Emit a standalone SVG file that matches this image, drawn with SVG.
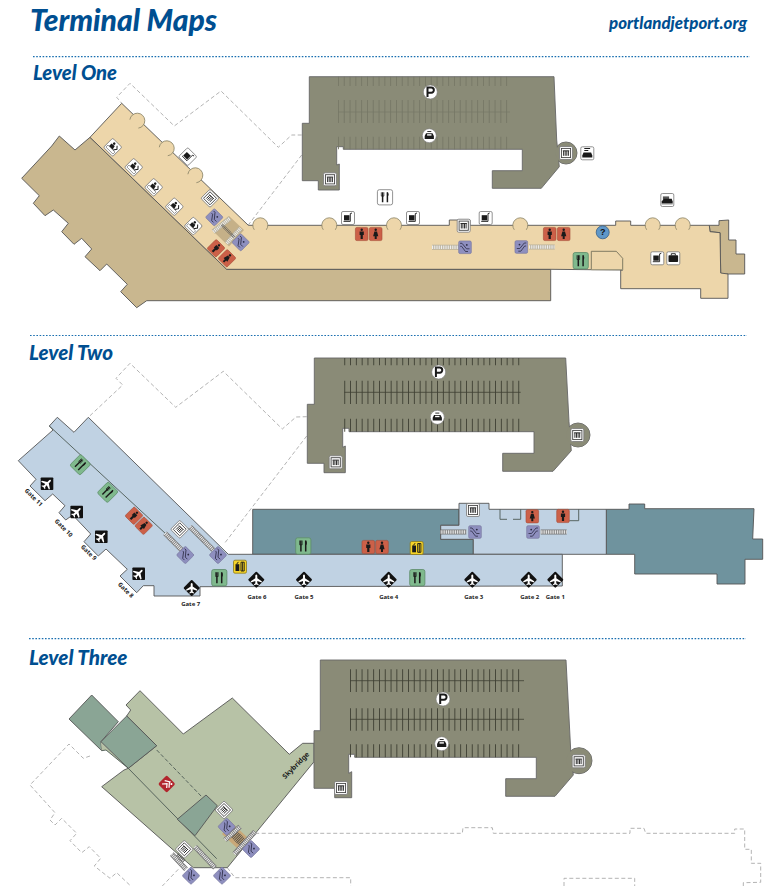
<svg xmlns="http://www.w3.org/2000/svg" width="774" height="887" viewBox="0 0 774 887">
<style>
.h{font-family:Lato,"Open Sans",sans-serif;font-weight:900;font-style:italic;fill:#004f91}
.g{font-family:"Noto Sans","Liberation Sans",sans-serif;font-weight:700;font-size:6px;fill:#222;text-anchor:middle}
.rule{fill:none;stroke:#1a6fb0;stroke-width:1.2;stroke-dasharray:1.6 1.6}
.dash{fill:none;stroke:#aaa;stroke-width:.9;stroke-dasharray:4 2.5}
.o{stroke:#555;stroke-width:.9;stroke-linejoin:miter}
.l1{fill:#edd6aa}.t1{fill:#c9b78f}.gar{fill:#8a8b77;stroke:#666;stroke-width:.9}
.bl{fill:#c0d2e3}.te{fill:#6f939e}.gr{fill:#b7c2a6}.bk{fill:#8aa595}
.in{fill:none;stroke:#4d5a55;stroke-width:.9}
.stall{fill:none;stroke-dasharray:.9 4.9}
.band{fill:none;stroke:#777;stroke-width:5}
.bandp{fill:none;stroke:#b8b09a;stroke-width:5}
.band2{fill:none;stroke:#eee;stroke-width:3.4;stroke-dasharray:1 .8}
.bump{fill:#edd6aa;stroke:#8a8468;stroke-width:.8}
.wb{fill:#fff;stroke:#777;stroke-width:.8}
.blk{fill:#1a1a1a}
.ln{fill:none;stroke:#1a1a1a}
</style>
<defs>
<path id="bp" class="bump" d="M-6 4.500A7.500 7.500 0 1 1 6 4.500"/>
<g id="elev"><rect x="-6.500" y="-6.500" width="13" height="13" rx="1.500" class="wb"/><rect x="-4.600" y="-4.600" width="9.200" height="9.200" fill="#fff" stroke="#444" stroke-width=".9"/><path d="M-3.200-2.200H3.200M-2.400-2V2.800M-.8-2V2.800M.8-2V2.800M2.400-2V2.800" class="ln" stroke-width=".9"/></g>
<g id="cart"><rect x="-6.500" y="-6.500" width="13" height="13" rx="1.500" class="wb"/><rect x="-4" y="-2.800" width="5.500" height="5.200" class="blk"/><path d="M4-5L2.300-4.400V3.400H-4.500" class="ln" stroke-width=".9"/></g>
<g id="bag"><rect x="-6.500" y="-6.500" width="13" height="13" rx="1.500" class="wb"/><rect x="-4.800" y="-3" width="9.600" height="6.800" rx=".8" class="blk"/><path d="M-2-3V-4.600H2V-3" class="ln" stroke-width=".9"/></g>
<g id="person"><rect x="-6.500" y="-6.500" width="13" height="13" rx="1.500" class="wb"/><rect x="-5" y="1.800" width="10" height="2.800" fill="#fff" stroke="#333" stroke-width=".5"/><circle cx="-1.500" cy="-3.600" r="1.300" class="blk"/><path d="M-3.500-1.800L.5-2.400L1.600 1.600H-3.500Z" class="blk"/><path d="M2-4.200L4.400-1.600L2.200 1.600" class="ln" stroke-width="1"/></g>
<g id="rent"><rect x="-6.500" y="-6.500" width="13" height="13" rx="1.500" class="wb"/><path d="M-3-4.800H2.800M-3-2.800H1" class="ln" stroke-width="1.200"/><path d="M-3.800-.8H3.800L5 2.200V4.200H-5V2.200Z" class="blk"/></g>
<g id="cars"><rect x="-6.500" y="-6.500" width="13" height="13" rx="1.500" class="wb"/><path d="M-4.400-3.600H1.800V-.6H-4.400Z" fill="#555"/><path d="M-1-1.200H4.400L5.400 1.400V3.600H-5.600V1.400L-3.600-1.200Z" class="blk"/><rect x="-5.600" y="3.600" width="11" height=".8" fill="#777"/></g>
<g id="wm"><rect x="-6.300" y="-6.600" width="12.600" height="13.200" rx="1.500" fill="#cc6048" stroke="#a64c38" stroke-width=".6"/><circle cy="-4.200" r="1.200" class="blk"/><path d="M-2.100-2.600H2.100V1H1.100V5H-1.100V1H-2.100Z" class="blk"/></g>
<g id="wf"><rect x="-6.300" y="-6.600" width="12.600" height="13.200" rx="1.500" fill="#cc6048" stroke="#a64c38" stroke-width=".6"/><circle cy="-4.200" r="1.200" class="blk"/><path d="M-1.300-2.600H1.300L2.600 2.200H1V5H-1V2.200H-2.600Z" class="blk"/></g>
<g id="esc"><rect x="-6.300" y="-6.300" width="12.600" height="12.600" rx="1.400" fill="#8e8fbf" stroke="#7a7aa0" stroke-width=".7"/><path d="M-5-4H-3L1.500 1.500H4.500M-4.800-1H-3.400L.5 4.200H3" fill="none" stroke="#2c2c44" stroke-width=".8"/><circle cx="1.800" cy="-2.400" r=".9" fill="#2c2c44"/></g>
<g id="eat"><rect x="-7.600" y="-8.200" width="15.200" height="16.400" rx="2" fill="#7fb98d" stroke="#5d8c69" stroke-width=".8"/><path d="M-2.400-5.500V5.500M2.400-5.500V5.500" class="ln" stroke-width="1.500"/><path d="M-3.700-5.500V-1.200H-1.100V-5.500" class="ln" stroke-width=".7"/><path d="M2.400-5.500C4-4.500 4-1.500 2.400-.6" fill="#1a1a1a"/></g>
<g id="eatw"><rect x="-7.600" y="-7.600" width="15.200" height="15.200" rx="2" class="wb"/><path d="M-2.400-5V5M2.400-5V5" class="ln" stroke-width="1.500"/><path d="M-3.700-5V-1.200H-1.100V-5" class="ln" stroke-width=".7"/><path d="M2.400-5C4-4 4-1.500 2.400-.6" fill="#1a1a1a"/></g>
<g id="yel"><rect x="-6.500" y="-6.500" width="13" height="13" rx="1.500" fill="#f5d327" stroke="#8a7a20" stroke-width=".8"/><rect x="-4.500" y="-2.500" width="3.800" height="6.800" class="blk"/><path d="M-3.400-2.500L-1.600-4.800" class="ln" stroke-width="1"/><path d="M1-4.500H4.200V4.300H1ZM2.600-4.500V4.300" class="ln" stroke-width=".9"/></g>
<g id="p"><circle r="7" fill="#fff" stroke="#777" stroke-width=".6"/><path d="M-2.800 5V-4.600H1C4.400-4.600 4.400 .8 1 .8H-2.800" fill="none" stroke="#1a1a1a" stroke-width="2"/></g>
<g id="car"><circle r="7" fill="#fff" stroke="#777" stroke-width=".6"/><path d="M-2-4.200H2" class="ln" stroke-width=".9"/><path d="M-3.200-2.400H3.200L4.600 .4V3.200H-4.600V.4Z" class="blk"/><rect x="-2.200" y="-1.500" width="4.400" height="1.400" fill="#fff"/></g>
<path id="pl" d="M0-5.200C.8-5.200 1-4.400 1-3.700V-1.500L5.600 1.500V2.800L1 1.300V3.600L2.400 4.800V5.600L0 4.900L-2.400 5.600V4.800L-1 3.600V1.300L-5.600 2.800V1.500L-1-1.500V-3.700C-1-4.400-.8-5.200 0-5.200Z" fill="#fff"/>
<g id="plane"><rect x="-6.300" y="-6.300" width="12.600" height="12.600" rx=".8" fill="#111"/><use href="#pl" transform="rotate(45)"/></g>
<g id="planed"><rect x="-5.900" y="-5.900" width="11.800" height="11.800" rx="1" fill="#111" transform="rotate(45)"/><use href="#pl" transform="scale(.98)"/></g>
<g id="qm"><circle r="6.500" fill="#5f97c8" stroke="#3a5f85" stroke-width=".8"/><text y="3" text-anchor="middle" font-family="Liberation Sans,sans-serif" font-weight="700" font-size="9" fill="#111">?</text></g>
<g id="exit"><rect x="-6.500" y="-6.500" width="13" height="13" rx="1.800" fill="#b2262d"/><path d="M-4-1L1.500-4.500M-3.500 3.500L0-.5L3 3M.5-3.500L4.500 1" fill="none" stroke="#fff" stroke-width="1.300"/><circle cx="3.500" cy="-3.500" r="1.100" fill="#fff"/></g>
</defs>
<rect width="774" height="887" fill="#fff"/>

<g id="header">
<text class="h" x="30" y="31" font-size="30" textLength="187" lengthAdjust="spacingAndGlyphs">Terminal Maps</text>
<text class="h" x="609" y="28.500" font-size="16" textLength="138" lengthAdjust="spacingAndGlyphs">portlandjetport.org</text>
<path class="rule" d="M33 56.700H750"/>
<path class="rule" d="M30 335.500H747"/>
<path class="rule" d="M29 638.700H746"/>
</g>

<g id="level-one">
<text class="h" x="33" y="80" font-size="20" textLength="84" lengthAdjust="spacingAndGlyphs">Level One</text>
<path class="dash" d="M301.700 135H291.700L278.300 147.300L221 91L174.300 126L130 83.300L116.700 97.300L121.700 103.300M301.700 155L248.300 225"/>
<polygon class="t1 o" points="90,137.300 75,150 59.300,136 51.700,146 21.700,178.300 39.300,195.700 33.300,203.300 45,215.700 53.300,210 68.300,223.300 61.700,231.700 74,244.300 81.700,238.300 91.700,249 85,256.700 100,270.700 106.700,264 127.300,284.300 120.700,291.700 136.700,307.700 146.700,300.700 550.700,300.700 550.700,269.300 226.700,269.300"/>
<polygon class="t1 o" points="719,220.700 728.700,220 728.700,240 736,240 736,254 744.700,254 744.700,274 720.700,274 720,232.700 710,231.700 709.300,225.300 719,225.300"/>
<polygon class="l1 o" points="121.700,103.300 90,137.300 226.700,269.300 550.700,269.300 622.700,270 620.700,270 620.700,288.700 700.700,288.700 700.700,298.300 728,298.300 728,274 720.700,273 720,232.700 710,231.700 709.300,225.300 630.700,225.300 630.700,221 615.700,221 615.700,225.300 479,225.300 470,225.300 470,220 449.300,220 449.300,225.300 248.300,225.300"/>
<g id="bumps-l1">
<use href="#bp" transform="translate(137.300 120.700) rotate(45)"/><use href="#bp" transform="translate(166.700 148.300) rotate(45)"/><use href="#bp" transform="translate(195.300 175.300) rotate(45)"/>
<use href="#bp" x="260.300" y="225.300"/><use href="#bp" x="329.300" y="225.300"/><use href="#bp" x="394" y="225.300"/><use href="#bp" x="520.300" y="225.300"/><use href="#bp" x="652.700" y="225.300"/><use href="#bp" x="682.700" y="225.300"/>
</g>
<path d="M591.300 270V251.300H616.300L622.700 258.300V270" fill="none" stroke="#74705a" stroke-width=".9"/>
<path d="M591.300 269.600H622.700" fill="none" stroke="#a39c80" stroke-width="1.200"/>
<circle cx="566" cy="153" r="11" fill="#8a8b77" stroke="#666" stroke-width=".9"/>
<polygon class="gar" points="309.300,76.700 309.300,123.300 302.300,123.300 302.300,180.700 318.300,180.700 318.300,190 339.300,190 339.300,164 336.700,165 336.700,146.700 343.300,146.700 343.300,149.300 522.300,149.300 522.300,170.700 492.300,170.700 492.300,188.300 541.300,188.300 559.300,166.700 556.700,140 554,76.700"/>
<circle cx="566" cy="153" r="10.500" fill="#8a8b77"/>
<g stroke="#777867">
<path class="stall" stroke-width="9.300" d="M338 81.400H510"/>
<path class="stall" stroke-width="23" d="M338 111.500H510"/>
<path class="stall" stroke-width="12.600" d="M338 143H510"/>
<path fill="none" stroke-width=".7" d="M338 112H510"/>
</g>
<g id="stairs-l1">
<path d="M214 232L229 246.500L244 230L229 216Z" fill="#c5b088"/>
<path class="bandp" d="M213.300 231.700L230 218.300M226.700 243.300L240.700 228.300"/>
<path class="band2" d="M213.300 231.700L230 218.300M226.700 243.300L240.700 228.300"/>
<path d="M222 225L234 237" stroke="#555" stroke-width="3" stroke-dasharray=".7 .8" fill="none"/>
<path class="bandp" d="M432 247.300H459M529 247H554.700"/><path class="band2" d="M432 247.300H459M529 247H554.700"/>
</g>
<g id="icons-l1">
<use href="#p" x="430.300" y="92"/><use href="#car" x="429.300" y="135.700"/>
<use href="#elev" x="566" y="153"/><use href="#elev" x="330" y="179.300"/><use href="#rent" x="587.300" y="153.300"/>
<use href="#eatw" x="385" y="197.300"/>
<use href="#cart" x="348" y="218"/><use href="#cart" x="413" y="218"/><use href="#cart" x="485.700" y="218"/>
<use href="#elev" x="463.700" y="225.700"/>
<use href="#wm" x="361.700" y="234"/><use href="#wf" x="375.700" y="234"/><use href="#wm" x="549.700" y="234"/><use href="#wf" x="563.700" y="234"/>
<use href="#qm" x="602.700" y="232.300"/><use href="#eat" x="580.700" y="260.700"/>
<use href="#esc" x="465" y="247.300"/><use href="#esc" transform="translate(521.300 247) scale(-1 1)"/>
<use href="#cart" x="657.300" y="258.300"/><use href="#bag" x="673.300" y="258.300"/><use href="#cars" x="667.300" y="200"/>
<use href="#person" transform="translate(112.700 147.300) rotate(45)"/>
<use href="#person" transform="translate(133.700 167.300) rotate(45)"/><use href="#person" transform="translate(153.700 187.300) rotate(45)"/><use href="#person" transform="translate(174.300 206.700) rotate(45)"/><use href="#person" transform="translate(193.300 226) rotate(45)"/>
<use href="#cart" transform="translate(187.700 156.700) rotate(45)"/><use href="#elev" transform="translate(210 198.300) rotate(45)"/>
<use href="#esc" transform="translate(214.300 217.300) rotate(45)"/><use href="#esc" transform="translate(240.700 242.300) rotate(45)"/>
<use href="#wm" transform="translate(216 248.300) rotate(45)"/><use href="#wf" transform="translate(227 258.300) rotate(45)"/>
</g>
</g>

<g id="level-two">
<text class="h" x="29" y="360" font-size="20" textLength="84" lengthAdjust="spacingAndGlyphs">Level Two</text>
<path class="dash" d="M306.700 416.700L296 417L282.300 429L223.300 371.300L175.700 407.300L130 363.300L116 378.300L122.700 385L88.300 417.300M306.700 436L224 544"/>
<polygon class="te o" points="252.700,509.300 252.700,554.300 473.300,554.300 473.300,539.300 440.700,539.300 440.700,525.300 459,525.300 459,509.300"/>
<polygon class="te o" points="606.300,509.300 629,509.300 629,504 644.700,504 644.700,508.700 754,508.700 752.700,539 762.700,539 762.700,559.300 745,559.300 745,584 717,584 717,574 634.700,574 634.700,554.300 606.300,554.300"/>
<polygon class="bl o" points="459,503.300 489,503.300 489,509.300 606.300,509.300 606.300,554.300 473.300,554.300 473.300,539.300 440.700,539.300 440.700,525.300 459,525.300"/>
<polygon class="bl o" points="57.300,417.300 49.300,426 53,430 18.300,460.700 36,479.300 30,486 45,500.700 52.700,494 65,505.700 59,512.700 65.700,520 72.700,515 90.700,534 84,541.700 98.300,556 106,549 127.300,569.300 120,576 136.700,592.700 143.300,585.700 154,585.700 154,596 200,596 200,586.700 562.300,586 562.300,554.300 228.300,554.300 88.300,417.300 74,432.300"/>
<path class="in" d="M49.300 426L166 534M500 509.300V519.300H507M513 519.300H520.700V509.300M578.700 509.300V520.700H569.300"/>
<circle cx="578" cy="435" r="12" fill="#8a8b77" stroke="#666" stroke-width=".9"/>
<polygon class="gar" points="314.300,358 314.300,404.300 307.300,404.300 307.300,463.300 324,463.300 324,472.700 345.300,472.700 345.300,446 342.700,447.300 342.700,428.300 349,428.300 349,431.700 534,431.700 534,453.300 502.700,453.300 502.700,471.300 553,471.300 571.300,450.700 569,421.700 565.700,358"/>
<circle cx="578" cy="435" r="11.500" fill="#8a8b77"/>
<g stroke="#3f4034">
<path class="stall" stroke-width="7.300" d="M344.300 361.700H520.700"/>
<path class="stall" stroke-width="23.300" d="M344.300 392.300H520.700"/>
<path class="stall" stroke-width="13" d="M344.300 425.200H520.700"/>
<path fill="none" stroke-width=".8" d="M344.300 392.300H520.700"/>
</g>
<g id="stairs-l2">
<path class="band" d="M165 533.300L181.700 550M190 526.700L213.300 550M440.700 532H466.300M540.700 532H566.700"/>
<path class="band2" d="M165 533.300L181.700 550M190 526.700L213.300 550M440.700 532H466.300M540.700 532H566.700"/>
</g>
<g id="icons-l2">
<use href="#p" x="438.700" y="372"/><use href="#car" x="437.300" y="417.300"/>
<use href="#elev" x="335.700" y="462.300"/><use href="#elev" x="577.300" y="435"/><use href="#elev" x="473" y="510"/>
<use href="#eat" transform="translate(80.300 464.700) rotate(45) scale(.95)"/><use href="#eat" transform="translate(107.700 492.300) rotate(45) scale(.95)"/>
<use href="#wm" transform="translate(134 515.700) rotate(45)"/><use href="#wf" transform="translate(143.700 525.700) rotate(45)"/>
<use href="#elev" transform="translate(179.700 529.300) rotate(45)"/>
<use href="#esc" transform="translate(185.300 555) rotate(45)"/><use href="#esc" transform="translate(218 555) rotate(45)"/>
<use href="#esc" x="475" y="532"/><use href="#esc" transform="translate(533 532) scale(-1 1)"/>
<use href="#eat" x="219.300" y="577.700"/><use href="#eat" x="303.300" y="546"/><use href="#eat" x="417.300" y="577.700"/>
<use href="#wm" x="368.300" y="547"/><use href="#wf" x="382" y="547"/><use href="#wf" x="532.300" y="516.300"/><use href="#wm" x="563" y="516"/>
<use href="#yel" x="240" y="566.700"/><use href="#yel" x="416.700" y="548"/>
<use href="#plane" x="47" y="483.700"/><use href="#plane" x="76.700" y="512"/><use href="#plane" x="101.300" y="536.700"/><use href="#plane" x="138.700" y="573.700"/>
<use href="#planed" x="191.700" y="588"/><use href="#planed" x="256.300" y="579.700"/><use href="#planed" x="304" y="579.700"/><use href="#planed" x="388.700" y="579.700"/><use href="#planed" x="472.300" y="579.700"/><use href="#planed" x="528.700" y="579.700"/><use href="#planed" x="555.300" y="579.700"/>
</g>
<g id="gate-labels">
<text class="g" transform="translate(32.300 499) rotate(45)">Gate 11</text>
<text class="g" transform="translate(62.300 529.500) rotate(45)">Gate 10</text>
<text class="g" transform="translate(87.300 554) rotate(45)">Gate 9</text>
<text class="g" transform="translate(124.300 591.500) rotate(45)">Gate 8</text>
<text class="g" x="190.700" y="605.500">Gate 7</text>
<text class="g" x="257" y="599">Gate 6</text>
<text class="g" x="304" y="598.500">Gate 5</text>
<text class="g" x="388.700" y="599">Gate 4</text>
<text class="g" x="473.700" y="599">Gate 3</text>
<text class="g" x="529.700" y="599">Gate 2</text>
<text class="g" x="555.300" y="599">Gate 1</text>
</g>
</g>

<g id="level-three">
<text class="h" x="29" y="665" font-size="20" textLength="98.500" lengthAdjust="spacingAndGlyphs">Level Three</text>
<path class="dash" d="M90 756L83.300 758.300L69 744L30 785L55 812.700L50 820L55 825L61.700 818.300L76.700 833.300L70 840.700L81.700 852.700L89.300 846.700L100.700 858.300L94.300 866L110 878.300L116.700 872.700L130.700 886M178.300 869.300L162.300 886M227.300 867.700L235 877.700H350.700V886M564 886V878.300H634.700V886M743.300 886V882.700L760.700 882.300V863.300H751.300V849.300H744.700V829H734.700V833.300H645.700L644 828.300H630V833.300H493.300L492.300 827.700H463L462.300 833.300H256.700"/>
<polygon class="bk o" points="91.700,695 118.300,721.700 101,741.700 101.700,750.700 69,719"/>
<polygon class="gr o" points="140,690.700 126,705 130.700,710 126.700,716 156.700,745.700 128.300,768.300 124,770 101.700,786.700 193.300,867.700 227.300,867.700 314,761.700 314,743.300 302.700,743.300 289.300,754.300 232.300,698 183.300,734"/>
<polygon class="gr" points="101,741.700 128.300,768.300 106,750 101.700,750.700"/>
<polygon class="bk o" points="126.700,716 156.700,745.700 128.300,768.300 101,741.700"/>
<path class="in" d="M101.700 750.700L106 750L128.300 768.300L216.700 858.700"/>
<path fill="none" stroke="#4d5a55" stroke-width=".9" stroke-dasharray="4 2" d="M156.700 750L201.700 796.700"/>
<polygon class="bk o" points="206,795 217.300,805.700 195,835.700 177.300,819.300"/>
<circle cx="579" cy="760.700" r="13" fill="#8a8b77" stroke="#666" stroke-width=".9"/>
<polygon class="gar" points="320.300,660 320.300,730.700 314,730.700 314,788.300 334.700,788.300 334.700,797.700 351.700,797.700 351.700,771.700 348.700,773.300 348.700,754.300 354.700,754.300 354.700,757.300 536.300,757.300 536.300,778.700 505.700,778.700 505.700,796.300 555,796.300 573.300,775 570.700,750 566,660"/>
<circle cx="579" cy="760.700" r="12.500" fill="#8a8b77"/>
<g stroke="#3f4034">
<path class="stall" stroke-width="22.700" d="M350 680.700H524"/>
<path class="stall" stroke-width="22.400" d="M350 719.500H524"/>
<path class="stall" stroke-width="13" d="M350 750.800H524"/>
<path fill="none" stroke-width=".8" d="M350 680.700H524M350 719.300H524"/>
</g>
<g id="stairs-l3">
<path d="M232 823L248 838L238 849L222 834Z" fill="#c9a878"/>
<path d="M231 831L243 843" stroke="#444" stroke-width="9" stroke-dasharray=".8 .9" fill="none"/>
<path d="M176 856L183 863" stroke="#444" stroke-width="8" stroke-dasharray=".8 .9" fill="none"/>
<path class="band" d="M225 840L240 826.700M234.300 854L255 831.700M171.700 854L186 869.300M195 846.700L215 867.700"/>
<path class="band2" d="M225 840L240 826.700M234.300 854L255 831.700M171.700 854L186 869.300M195 846.700L215 867.700"/>
</g>
<g id="icons-l3">
<use href="#p" x="443" y="699"/><use href="#car" x="441.700" y="743.700"/>
<use href="#elev" x="341" y="788"/><use href="#elev" x="578.700" y="761.300"/>
<use href="#exit" transform="translate(166.700 784) rotate(45) scale(.95)"/>
<use href="#elev" transform="translate(224 810) rotate(45)"/><use href="#elev" transform="translate(184.300 849.300) rotate(45)"/>
<use href="#esc" transform="translate(226.700 826.700) rotate(45)"/><use href="#esc" transform="translate(251 849) rotate(45)"/><use href="#esc" transform="translate(191 875.700) rotate(45)"/><use href="#esc" transform="translate(222 875.700) rotate(45)"/>
</g>
<text class="g" style="font-size:7px" transform="translate(297.500 767) rotate(-45)">Skybridge</text>
</g>
</svg>
